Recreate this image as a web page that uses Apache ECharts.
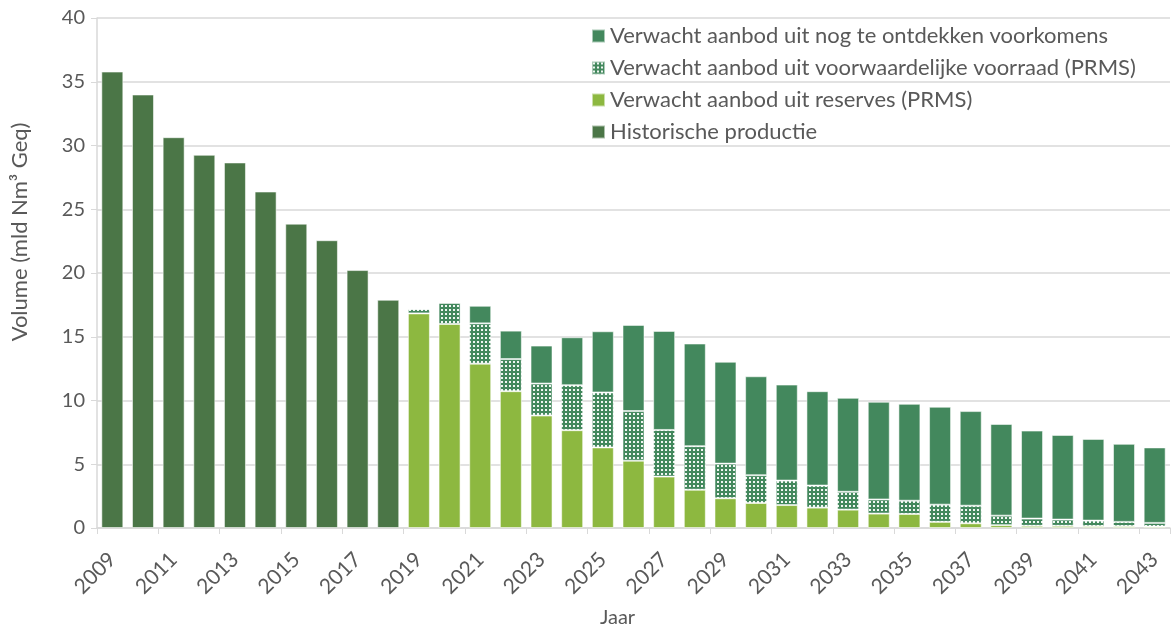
<!DOCTYPE html>
<html>
<head>
<meta charset="utf-8">
<script src="https://cdn.jsdelivr.net/npm/echarts@6/dist/echarts.min.js"></script>
<style>
  html, body { margin: 0; padding: 0; background: #ffffff; }
  #chart { width: 1171px; height: 633px; }
</style>
</head>
<body>
<div id="chart"></div>
<script>
// Years on the category axis
const years = [];
for (let y = 2009; y <= 2043; y++) years.push(String(y));

// Historical production 2009-2018 (bcm Geq)
const historisch = [35.8, 34.0, 30.65, 29.27, 28.67, 26.39, 23.87, 22.57, 20.23, 17.9];

// Expected supply from reserves, 2019-2043
const reserves = [16.83, 16.0, 12.89, 10.73, 8.82, 7.67, 6.32, 5.28, 4.03, 3.0,
  2.33, 1.96, 1.8, 1.6, 1.44, 1.13, 1.1, 0.48, 0.37, 0.22,
  0.17, 0.17, 0.14, 0.14, 0.12];

// Expected supply from contingent resources, 2019-2043
const voorwaardelijk = [0.34, 1.66, 3.16, 2.52, 2.51, 3.53, 4.31, 3.89, 3.66, 3.42,
  2.72, 2.18, 1.92, 1.73, 1.40, 1.11, 1.04, 1.35, 1.38, 0.75,
  0.57, 0.49, 0.44, 0.34, 0.28];

// Expected supply from yet-to-find resources, 2019-2043
const onontdekt = [0, 0, 1.38, 2.23, 2.98, 3.76, 4.80, 6.76, 7.77, 8.05,
  7.99, 7.76, 7.53, 7.40, 7.37, 7.66, 7.60, 7.68, 7.42, 7.19,
  6.90, 6.64, 6.41, 6.12, 5.92];

const seriesNames = [
  'Verwacht aanbod uit nog te ontdekken voorkomens',
  'Verwacht aanbod uit voorwaardelijke voorraad (PRMS)',
  'Verwacht aanbod uit reserves (PRMS)',
  'Historische productie'
];

const yTicks = { min: 0, max: 40, interval: 5 };

const cDark = '#4B7647';
const cLight = '#8DB840';
const cMid = '#43885D';

// Dotted fill for contingent resources: green tile with a small white square
function dotPattern() {
  const c = document.createElement('canvas');
  c.width = 4; c.height = 4;
  const ctx = c.getContext('2d');
  ctx.fillStyle = cMid;
  ctx.fillRect(0, 0, 4, 4);
  ctx.fillStyle = 'rgba(255,255,255,0.92)';
  ctx.fillRect(1, 1, 2, 2);
  return c;
}

const pad = (arr, before, total) => {
  const out = new Array(before).fill(null).concat(arr);
  while (out.length < total) out.push(null);
  return out;
};
const n = years.length;
const histData = pad(historisch, 0, n);
const resData = pad(reserves, historisch.length, n);
const condData = pad(voorwaardelijk, historisch.length, n);
const undiscData = pad(onontdekt, historisch.length, n);

const FONT = 'Lato, "Open Sans", sans-serif';
const TXT = '#595959';
const border = { borderColor: 'rgba(255,255,255,0.55)', borderWidth: 1 };

const chart = echarts.init(document.getElementById('chart'), null, { renderer: 'canvas' });
chart.setOption({
  animation: false,
  backgroundColor: '#ffffff',
  textStyle: { fontFamily: FONT },
  grid: { left: 97, right: 1, top: 18, bottom: 101, containLabel: false },
  legend: {
    orient: 'vertical',
    left: 591,
    top: 25,
    padding: 0,
    itemWidth: 13,
    itemHeight: 13,
    itemGap: 10,
    itemTextGap: 5,
    icon: 'rect',
    data: seriesNames,
    textStyle: { color: TXT, fontSize: 22, fontFamily: FONT, lineHeight: 22 }
  },
  xAxis: {
    type: 'category',
    data: years,
    axisLine: { lineStyle: { color: '#d9d9d9', width: 1.5 } },
    axisTick: { show: true, length: 6, lineStyle: { color: '#d9d9d9' }, alignWithLabel: false },
    axisLabel: { interval: 1, rotate: 45, color: TXT, fontSize: 21, fontFamily: FONT, margin: 28 },
    name: 'Jaar',
    nameLocation: 'middle',
    nameGap: 80,
    nameTextStyle: { color: TXT, fontSize: 20, fontFamily: FONT, padding: [0, 32, 0, 0] }
  },
  yAxis: {
    type: 'value',
    min: yTicks.min,
    max: yTicks.max,
    interval: yTicks.interval,
    axisLine: { show: true, lineStyle: { color: '#d9d9d9', width: 1.5 } },
    axisTick: { show: true, length: 6, lineStyle: { color: '#d9d9d9' } },
    splitLine: { lineStyle: { color: '#d9d9d9', width: 1.5 } },
    axisLabel: { color: TXT, fontSize: 20, fontFamily: FONT, margin: 12 }
  },
  graphic: [{
    type: 'text',
    x: 20,
    y: 232,
    rotation: Math.PI / 2,
    style: {
      text: 'Volume (mld Nm³ Geq)',
      fill: TXT,
      font: '22px ' + FONT,
      textAlign: 'center',
      textVerticalAlign: 'middle'
    }
  }],
  series: [
    {
      name: seriesNames[3], type: 'bar', stack: 'v', data: histData, barWidth: 22,
      itemStyle: Object.assign({ color: cDark }, border)
    },
    {
      name: seriesNames[2], type: 'bar', stack: 'v', data: resData, barWidth: 22,
      itemStyle: Object.assign({ color: cLight }, border)
    },
    {
      name: seriesNames[1], type: 'bar', stack: 'v', data: condData, barWidth: 22,
      itemStyle: Object.assign({ color: { image: dotPattern(), repeat: 'repeat' } }, border)
    },
    {
      name: seriesNames[0], type: 'bar', stack: 'v', data: undiscData, barWidth: 22,
      itemStyle: Object.assign({ color: cMid }, border)
    }
  ]
});
</script>
</body>
</html>
